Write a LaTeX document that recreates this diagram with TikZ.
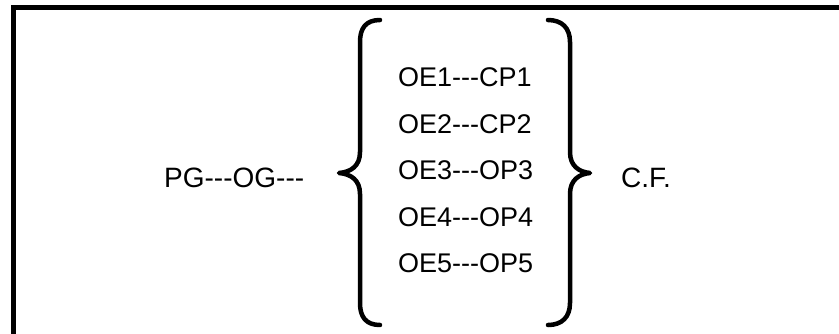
\documentclass[tikz,border=0pt]{standalone}
\usepackage{fontspec}
\setmainfont{Liberation Sans}[Ligatures=TeXOff]
\begin{document}
\begin{tikzpicture}[x=1pt,y=-1pt,
  lbl/.style={inner sep=0pt,anchor=base west,font=\fontsize{28}{34}\selectfont},
  item/.style={inner sep=0pt,anchor=base west,font=\fontsize{27}{32}\selectfont},
  brace/.style={line width=4.5pt,line cap=round,line join=round}]
\useasboundingbox (0,0) rectangle (839,333);
% frame
\draw[line width=5pt] (13.5,340) -- (13.5,7.5) -- (845,7.5);
% texts
\node[lbl] (pg) at (164,187) {PG---OG---};
\node[item] (oe1) at (398,86.7) {OE1---CP1};
\node[item] (oe2) at (398,133.2) {OE2---CP2};
\node[item] (oe3) at (398,179.7) {OE3---OP3};
\node[item] (oe4) at (398,226.2) {OE4---OP4};
\node[item] (oe5) at (398,272.7) {OE5---OP5};
\node[lbl] (cf) at (621,187) {C.F.};
% left brace
\draw[brace] (380,20) .. controls (366,20) and (360,28) .. (360,42)
  -- (360,152) .. controls (360,166) and (351,172) .. (339,173)
  .. controls (351,174) and (360,180) .. (360,194)
  -- (360,303) .. controls (360,317) and (366,325) .. (380,325);
% right brace
\draw[brace] (548,20) .. controls (562,20) and (570,28) .. (570,42)
  -- (570,152) .. controls (570,166) and (579,172) .. (590,173)
  .. controls (579,174) and (570,180) .. (570,194)
  -- (570,303) .. controls (570,317) and (562,325) .. (548,325);
\end{tikzpicture}
\end{document}
